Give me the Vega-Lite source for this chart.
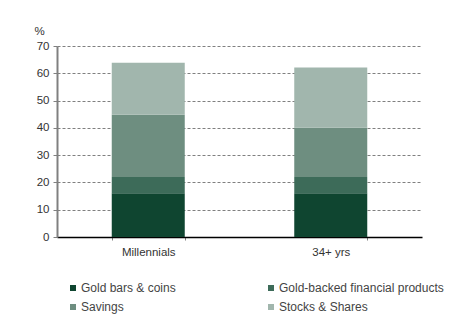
{
  "$schema": "https://vega.github.io/schema/vega-lite/v6.json",
  "width": 365,
  "height": 191,
  "autosize": {"type": "none"},
  "padding": {"left": 57, "top": 46, "right": 54, "bottom": 96},
  "background": "white",
  "config": {
    "view": {"stroke": null},
    "font": "Liberation Sans"
  },
  "data": {
    "values": [
      {"group": "Millennials", "type": "Gold bars & coins", "k": 1, "value": 16},
      {"group": "Millennials", "type": "Gold-backed financial products", "k": 2, "value": 6},
      {"group": "Millennials", "type": "Savings", "k": 3, "value": 22.8},
      {"group": "Millennials", "type": "Stocks & Shares", "k": 4, "value": 19.1},
      {"group": "34+ yrs", "type": "Gold bars & coins", "k": 1, "value": 16},
      {"group": "34+ yrs", "type": "Gold-backed financial products", "k": 2, "value": 6},
      {"group": "34+ yrs", "type": "Savings", "k": 3, "value": 18},
      {"group": "34+ yrs", "type": "Stocks & Shares", "k": 4, "value": 22.1}
    ]
  },
  "mark": {"type": "bar"},
  "encoding": {
    "x": {
      "field": "group",
      "type": "nominal",
      "sort": ["Millennials", "34+ yrs"],
      "scale": {"paddingInner": 0.6, "paddingOuter": 0.3},
      "axis": {
        "title": null,
        "labelAngle": 0,
        "domainColor": "#000000",
        "domainWidth": 1.5,
        "tickBand": "extent",
        "ticks": true,
        "tickColor": "#808080",
        "tickSize": 3,
        "labelPadding": 6,
        "labelFontSize": 11.5,
        "labelColor": "#333333",
        "grid": false
      }
    },
    "y": {
      "field": "value",
      "type": "quantitative",
      "stack": "zero",
      "scale": {"domain": [0, 70]},
      "axis": {
        "title": "%",
        "titleAngle": 0,
        "titleX": -23,
        "titleY": -15,
        "titleAlign": "left",
        "titleBaseline": "middle",
        "titleFontWeight": "normal",
        "titleFontSize": 11.5,
        "titleColor": "#333333",
        "values": [0, 10, 20, 30, 40, 50, 60, 70],
        "domainColor": "#808080",
        "domainWidth": 2,
        "tickColor": "#808080",
        "tickSize": 4,
        "labelPadding": 4,
        "labelFontSize": 11.5,
        "labelColor": "#333333",
        "grid": true,
        "gridColor": "#808080",
        "gridDash": [3, 2],
        "gridWidth": 1
      }
    },
    "color": {
      "field": "type",
      "type": "nominal",
      "sort": ["Gold bars & coins", "Gold-backed financial products", "Savings", "Stocks & Shares"],
      "scale": {
        "domain": ["Gold bars & coins", "Gold-backed financial products", "Savings", "Stocks & Shares"],
        "range": ["#0F4530", "#3D6B59", "#6E8E80", "#A1B6AD"]
      },
      "legend": {
        "title": null,
        "orient": "none",
        "legendX": 10,
        "legendY": 236,
        "padding": 0,
        "direction": "horizontal",
        "columns": 2,
        "columnPadding": 89,
        "rowPadding": 7,
        "symbolType": "square",
        "symbolSize": 36,
        "symbolStrokeWidth": 0,
        "labelFontSize": 12,
        "labelColor": "#444444",
        "labelOffset": 2,
        "labelLimit": 300
      }
    },
    "order": {"field": "k", "type": "quantitative"}
  }
}
